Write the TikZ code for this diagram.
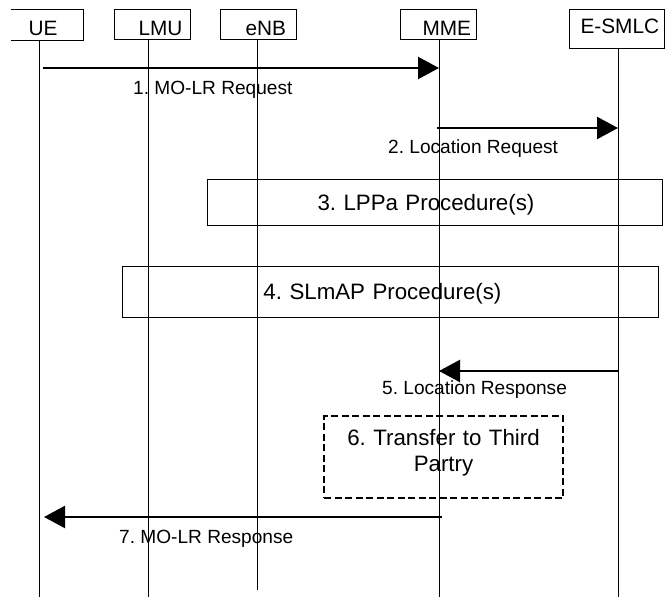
\documentclass[tikz,border=0pt]{standalone}
\usepackage{fontspec}
\setmainfont{Liberation Sans}
\usetikzlibrary{arrows.meta}
\frenchspacing
\newcommand\hdrfont{\fontsize{20.8}{24}\selectfont}
\newcommand\msgfont{\fontsize{19.1}{22}\selectfont}
\newcommand\procfont{\fontsize{22.3}{26}\selectfont}
\begin{document}
\begin{tikzpicture}[x=1pt,y=-1pt,
  hdr/.style={draw, line width=1pt, inner xsep=0pt, inner ysep=0pt, anchor=north west,
    align=left, font=\hdrfont, text height=26pt, text depth=4pt},
  life/.style={line width=1pt},
  msg/.style={line width=2.3pt, -{Triangle[length=21pt,width=22pt]}},
  msglabel/.style={anchor=base west, inner sep=0pt, font=\msgfont},
  proc/.style={draw, line width=1pt, inner xsep=0pt, inner ysep=0pt, anchor=north west,
    font=\procfont},
  optproc/.style={proc, line width=2pt, dash pattern=on 7pt off 3.5pt}
]
\useasboundingbox (0,0) rectangle (665,597);

% header boxes
\node[hdr, draw=none, text width=76pt] (ue) at (6,9) {\hspace*{22pt}UE};
\draw[line width=1pt] ([xshift=5pt]ue.north west) -- (ue.north east) -- (ue.south east) -- ([xshift=5pt]ue.south west);
\node[hdr, text width=76pt] (lmu) at (114,9) {\hspace*{24pt}LMU};
\node[hdr, text width=76pt] (enb) at (220,9) {\hspace*{25pt}eNB};
\node[hdr, text width=76pt] (mme) at (400,9) {\hspace*{22pt}MME};
\node[hdr, text width=95pt, text height=24pt, text depth=15pt] (smlc) at (569,9) {\hspace*{11pt}E-SMLC};

% lifelines
\coordinate (ueEnd) at (39,597);
\coordinate (lmuEnd) at (148,597);
\coordinate (enbEnd) at (257,590);
\coordinate (mmeEnd) at (439,597);
\coordinate (smlcEnd) at (618,597);
\draw[life] (ue.south -| ueEnd) -- (ueEnd);
\draw[life] (lmu.south -| lmuEnd) -- (lmuEnd);
\draw[life] (enb.south -| enbEnd) -- (enbEnd);
\draw[life] (mme.south -| mmeEnd) -- (mmeEnd);
\draw[life] (smlc.south -| smlcEnd) -- (smlcEnd);

% 1
\coordinate (m1a) at (43,68);
\coordinate (m1b) at (439,68);
\draw[msg] (m1a) -- (m1b);
\node[msglabel] (l1) at (133,94) {1. MO-LR Request};

% 2
\coordinate (m2a) at (437,128);
\coordinate (m2b) at (618,128);
\draw[msg] (m2a) -- (m2b);
\node[msglabel] (l2) at (388,153) {2. Location Request};

% 3
\node[proc, text width=455pt, text height=31pt, text depth=15pt, align=left] (p3) at (207,179)
  {\hspace*{110pt}3. LPPa Procedure(s)};

% 4
\node[proc, text width=536pt, text height=33pt, text depth=18pt, align=left] (p4) at (122,266)
  {\hspace*{141pt}4. SLmAP Procedure(s)};

% 5
\coordinate (m5a) at (619,371);
\coordinate (m5b) at (439,371);
\draw[msg] (m5a) -- (m5b);
\node[msglabel] (l5) at (382,394) {5. Location Response};

% 6
\node[optproc, text width=239pt, text height=29pt, text depth=53pt, align=center] (p6) at (323,415)
  {6. Transfer to Third\hspace*{10pt}\\Partry\hspace*{10pt}};

% 7
\coordinate (m7a) at (442,517);
\coordinate (m7b) at (44,517);
\draw[msg] (m7a) -- (m7b);
\node[msglabel] (l7) at (119,543) {7. MO-LR Response};
\end{tikzpicture}
\end{document}
